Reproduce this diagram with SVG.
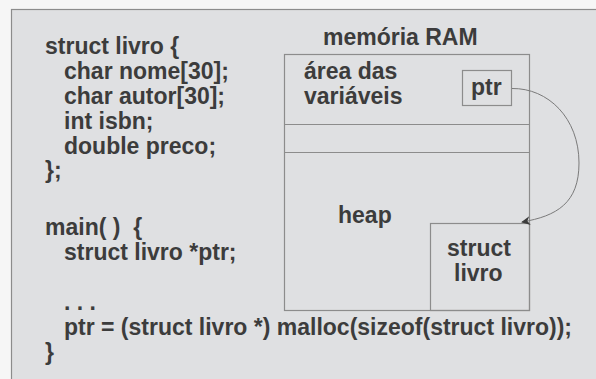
<svg xmlns="http://www.w3.org/2000/svg" width="596" height="379" viewBox="0 0 596 379">
  <defs>
    <style>
      .t { font-family: "Liberation Sans", Arial, sans-serif; font-weight: bold; font-size: 23px; fill: #3c3c3c; white-space: pre; }
      .box { fill: none; stroke: #8c8c8c; stroke-width: 1.2; }
      .link { fill: none; stroke: #7a7a7a; stroke-width: 1; }
    </style>
    <marker id="arrow" viewBox="0 0 10 10" refX="9" refY="5" markerWidth="9" markerHeight="9" markerUnits="userSpaceOnUse" orient="auto">
      <path d="M0,0 L10,5 L0,10 L3,5 Z" fill="#3c3c3c"/>
    </marker>
  </defs>

  <!-- page and frame -->
  <rect x="0" y="0" width="596" height="379" fill="#f6f6f6"/>
  <rect x="11.5" y="9.5" width="600" height="400" fill="#dfe0e2" stroke="#8c8c8c" stroke-width="1.2"/>

  <!-- source code listing -->
  <g id="code">
    <text class="t" x="45" y="54">struct livro {</text>
    <text class="t" x="64" y="79">char nome[30];</text>
    <text class="t" x="64" y="104">char autor[30];</text>
    <text class="t" x="64" y="129">int isbn;</text>
    <text class="t" x="64" y="154">double preco;</text>
    <text class="t" x="45" y="178">};</text>
    <text class="t" x="45" y="235" xml:space="preserve">main( )  {</text>
    <text class="t" x="64" y="260">struct livro *ptr;</text>
    <text class="t" x="64" y="310">. . .</text>
    <text class="t" x="64" y="335">ptr = (struct livro *) malloc(sizeof(struct livro));</text>
    <text class="t" x="45" y="360">}</text>
  </g>

  <!-- memory layout -->
  <g id="memoria">
    <text class="t" x="323" y="45">memória RAM</text>
    <rect class="box" x="284.5" y="54.5" width="245" height="256"/>
    <line class="box" x1="284.5" y1="124.5" x2="529.5" y2="124.5"/>
    <line class="box" x1="284.5" y1="152.5" x2="529.5" y2="152.5"/>
  </g>

  <g id="area-variaveis">
    <text class="t" x="304" y="79">área das</text>
    <text class="t" x="304" y="104">variáveis</text>
  </g>

  <g id="ptr">
    <rect class="box" x="462.5" y="70.5" width="49" height="35"/>
    <text class="t" x="471" y="95">ptr</text>
  </g>

  <g id="heap">
    <text class="t" x="338" y="223">heap</text>
  </g>

  <g id="struct-livro">
    <rect class="box" x="430.5" y="223.5" width="99" height="87"/>
    <text class="t" x="447" y="256">struct</text>
    <text class="t" x="454" y="281">livro</text>
  </g>

  <!-- pointer reference -->
  <g id="connectors">
    <path class="link" d="M512,88.5 C548,88 579,118 579,163 C579,203 557,216 522,222" marker-end="url(#arrow)"/>
  </g>
</svg>
